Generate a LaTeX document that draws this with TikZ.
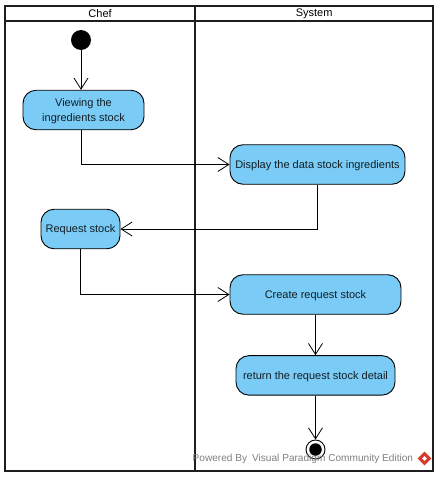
\documentclass[tikz,border=0pt]{standalone}
\usepackage{fontspec}
\setmainfont{Liberation Sans}
\usetikzlibrary{arrows.meta, positioning, shapes.geometric}
\definecolor{vpBlue}{HTML}{7ACBF5}
\definecolor{vpFrame}{HTML}{1E1E1E}
\definecolor{vpGrey}{HTML}{7F7F7F}
\definecolor{vpRed}{HTML}{D8392B}
\tikzset{
  lane/.style={draw=vpFrame, line width=2.2pt, inner sep=0pt},
  action/.style={draw=black, line width=0.9pt, rounded corners=13pt, fill=vpBlue, text=black!85!vpBlue, minimum height=39.5pt, inner sep=2pt, align=center, text depth=0pt, font=\fontsize{11}{15}\selectfont},
  flow/.style={line width=0.9pt, -{Straight Barb[length=11pt,width=14pt,line width=0.8pt]}}
}
\begin{document}
\begin{tikzpicture}[x=1pt, y=-1pt]
    \useasboundingbox (0,0) rectangle (438,477);
    % swimlanes
    \node[lane, minimum width=190pt, minimum height=15.5pt, anchor=north west, font=\fontsize{11}{12}\selectfont] (chefHead) at (4,4.5) {Chef};
    \node[lane, minimum width=238pt, minimum height=15.5pt, anchor=north west, font=\fontsize{11}{12}\selectfont] (sysHead) at (194,4.5) {System};
    \node[lane, minimum width=190pt, minimum height=449.5pt, anchor=north west] (chefLane) at (4,20) {};
    \node[lane, minimum width=238pt, minimum height=449.5pt, anchor=north west] (sysLane) at (194,20) {};
    % chef side
    \node[circle, fill=black, inner sep=0pt, minimum size=20pt] (start) at (81,40) {};
    \node[action, minimum width=121pt] (viewing) at (83.5,110) {Viewing the\\ingredients stock};
    \node[action, minimum width=79pt] (request) at (80.5,229) {Request stock};
    % system side
    \node[action, minimum width=175pt] (display) at (317.5,164.5) {Display the data stock ingredients};
    \node[action, minimum width=171pt] (create) at (315.5,294.5) {Create request stock};
    \node[action, minimum width=159pt, below=40.5pt of create] (detail) {return the request stock detail};
    \node[circle, draw=black, line width=0.9pt, fill=white, inner sep=0pt, minimum size=19pt] (stop) at (315.5,449.5) {};
    \node[circle, fill=black, inner sep=0pt, minimum size=12.5pt] (stopDot) at (stop.center) {};
    % flows
    \draw[flow] (start) -- (start |- viewing.north);
    \draw[flow] (start |- viewing.south) |- (display);
    \draw[flow] (display) |- (request);
    \draw[flow] (request) |- (create);
    \draw[flow] (create) -- (detail);
    \draw[flow] (detail) -- (stop);
    % watermark
    \node[text=vpGrey, font=\fontsize{10.1}{12}\selectfont, inner sep=0pt, anchor=west] (mark) at (192.5,458.5) {Powered By\hspace{5pt}Visual Paradigm Community Edition};
    \node[diamond, fill=vpRed, inner sep=0pt, minimum size=14pt, right=4pt of mark] (markIcon) {};
    \node[diamond, fill=white, inner sep=0pt, minimum size=5pt] (markDot) at (markIcon.center) {};
  \end{tikzpicture}
\end{document}
